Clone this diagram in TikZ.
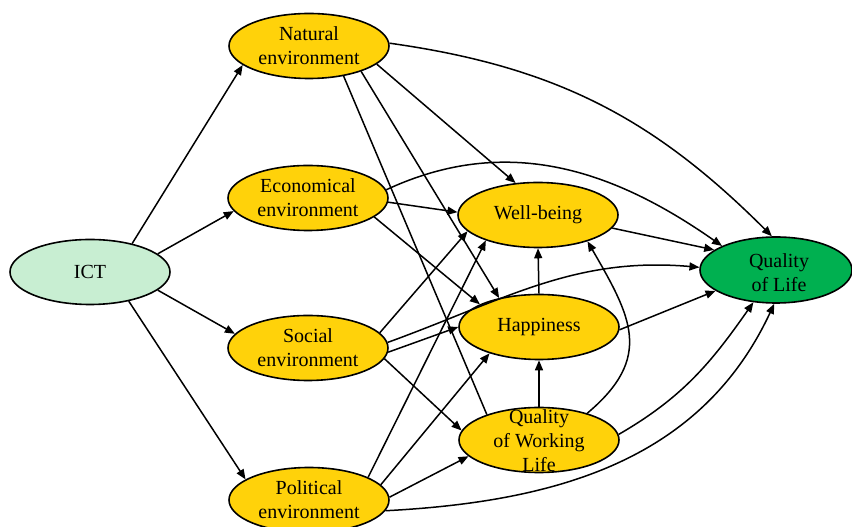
\documentclass[tikz,border=0pt]{standalone}
\usepackage{fontspec}
\setmainfont{Liberation Serif}
\usetikzlibrary{shapes.geometric,arrows.meta}

\definecolor{factorfill}{RGB}{255,210,10}
\definecolor{ictfill}{RGB}{200,238,210}
\definecolor{qolfill}{RGB}{0,176,80}

\tikzset{
  ell/.style={ellipse, draw=black, line width=1.6pt, inner sep=0pt,
              minimum width=160pt, minimum height=65pt},
  factor/.style={ell, fill=factorfill},
  caption/.style={align=center, inner sep=0pt,
                  font=\fontsize{20}{24}\selectfont},
  link/.style={line width=1.5pt, -{Triangle[length=10pt,width=8pt]}},
  plainlink/.style={line width=1.5pt}
}

\begin{document}
\begin{tikzpicture}[x=1pt,y=1pt]
\useasboundingbox (0,0) rectangle (852,527);

% nodes
\node[ell, fill=ictfill, minimum width=160pt] (ict) at (90,255) {};
\node[caption] at (ict.center) {ICT};
\node[factor] (nat) at (309,481) {};
\node[caption] at (nat.center) {Natural\\environment};
\node[factor] (eco) at (308,329) {};
\node[caption] at (eco.center) {Economical\\environment};
\node[factor] (soc) at (308,179) {};
\node[caption] at (soc.center) {Social\\environment};
\node[factor] (pol) at (309,27) {};
\node[caption] at (pol.center) {Political\\environment};
\node[factor] (wb) at (538,312) {};
\node[caption] at (wb.center) {Well-being};
\node[factor] (hap) at (539,200) {};
\node[caption] at (hap.center) {Happiness};
\node[factor] (qwl) at (539,87) {};
\node[caption, yshift=-1pt] at (qwl.center) {Quality\\of Working\\Life};
\node[ell, fill=qolfill, minimum width=152pt, minimum height=66pt] (qol) at (776,257) {};
\node[caption, xshift=3pt, yshift=-3pt] at (qol.center) {Quality\\of Life};

% ICT to the four environments
\draw[link] (ict.34) -- (nat.196);
\draw[link] (ict.15) -- (eco.190);
\draw[link] (ict.-15) -- (soc.169);
\draw[link] (ict.-37) -- (pol.162);

% natural environment
\draw[link] (nat.2) to[out=-8,in=135] (qol.97);
\draw[link] (nat.-15) -- (wb.125);
\draw[link] (nat.-26) -- (hap.144);
\draw[plainlink] (nat.-41) -- (qwl.154);

% economical environment
\draw[link] (eco.6) to[out=25,in=145] (qol.156);
\draw[link] (eco.-3) -- (wb.178);
\draw[link] (eco.-16) -- (hap.159);

% social environment
\draw[link] (soc.12) -- (wb.193);
\draw[link] (soc.4) to[out=20,in=175] (qol.178);
\draw[link] (soc.-3) -- (hap.180);
\draw[link] (soc.-8) -- (qwl.173);

% political environment
\draw[link] (pol.21) -- (wb.206);
\draw[link] (pol.12) -- (hap.208);
\draw[link] (pol.2) -- (qwl.193);
\draw[link] (pol.-8) to[out=3,in=-115] (qol.267);

% mediators
\draw[link] (wb.-10) -- (qol.162);
\draw[link] (hap.-2) -- (qol.199);
\draw[link] (hap.north) -- (wb.south);
\draw[link] (qwl.north) -- (hap.south);
\draw[link] (qwl.29) to[out=40,in=-60,looseness=1.3] (wb.-28);
\draw[link] (qwl.4) to[out=30,in=-125] (qol.235);
\end{tikzpicture}
\end{document}
